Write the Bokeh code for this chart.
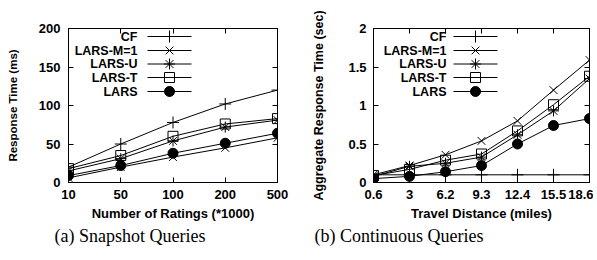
from bokeh.plotting import figure
from bokeh.layouts import row
from bokeh.models import Range1d, FixedTicker, LinearAxis, Title
from bokeh.core.properties import value
from bokeh.embed import file_html
from bokeh.resources import INLINE

# ---------------- data ----------------
series_names = ["CF", "LARS-M=1", "LARS-U", "LARS-T", "LARS"]

# (a) Snapshot queries: response time (ms) vs number of ratings (*1000)
snap_x_labels = ["10", "50", "100", "200", "500"]
snap_cf = [20, 50, 78, 102, 120]
snap_m1 = [6, 20, 33, 45, 58]
snap_u = [15, 31, 54, 72, 81]
snap_t = [18, 35, 60, 76, 83]
snap_lars = [9, 22, 38, 51, 64]
snap_y_ticks = [0, 50, 100, 150, 200]

# (b) Continuous queries: aggregate response time (sec) vs travel distance (miles)
cont_x_labels = ["0.6", "3", "6.2", "9.3", "12.4", "15.5", "18.6"]
cont_cf = [0.1, 0.1, 0.1, 0.1, 0.1, 0.1, 0.1]
cont_m1 = [0.1, 0.22, 0.36, 0.54, 0.8, 1.2, 1.59]
cont_u = [0.08, 0.21, 0.25, 0.33, 0.62, 0.93, 1.35]
cont_t = [0.09, 0.17, 0.29, 0.37, 0.67, 1.01, 1.38]
cont_lars = [0.05, 0.08, 0.14, 0.22, 0.5, 0.74, 0.83]
cont_y_ticks = [0, 0.5, 1, 1.5, 2]
cont_y_tick_labels = ["0", "0.5", "1", "1.5", "2"]

SANS = "Liberation Sans"
SERIF = "Liberation Serif"

styles = {
    "CF": dict(marker="cross", size=12, fill=False),
    "LARS-M=1": dict(marker="x", size=11, fill=False),
    "LARS-U": dict(marker="asterisk", size=11, fill=False),
    "LARS-T": dict(marker="square", size=10, fill=False),
    "LARS": dict(marker="circle", size=10, fill=True),
}

TOP = 28       # frame top (px on page)
FRAME_H = 154  # frame height (px)


def draw_series(p, xs, ys, name):
    st = styles[name]
    p.line(xs, ys, line_color="black", line_width=1)
    p.scatter(xs, ys, marker=st["marker"], size=st["size"], line_color="black",
              line_width=1, fill_color="black" if st["fill"] else None)


def make_plot(x_labels, series, y_max, y_ticks, y_tick_labels, xlabel, ylabel,
              ylabel_size, frame_w, left_b, right_b, caption, cap_offset,
              leg_text_x, leg_line, leg_rows, frame_left, ylab_standoff, tick_standoff):
    n = len(x_labels)
    xs = list(range(n))
    p = figure(frame_width=frame_w, frame_height=FRAME_H, output_backend="svg",
               toolbar_location=None, x_range=Range1d(0, n - 1),
               y_range=Range1d(0, y_max), min_border_left=left_b,
               min_border_right=right_b, min_border_top=TOP, min_border_bottom=40)
    p.grid.visible = False
    p.outline_line_color = "black"
    p.outline_line_width = 1
    p.background_fill_color = "white"
    p.border_fill_color = "white"

    for ax in (p.xaxis[0], p.yaxis[0]):
        ax.major_tick_in = 5
        ax.major_tick_out = 0
        ax.minor_tick_in = 0
        ax.minor_tick_out = 0
        ax.axis_line_color = "black"
        ax.major_tick_line_color = "black"
        ax.major_label_text_font = SANS
        ax.major_label_text_font_style = "bold"
        ax.major_label_text_font_size = "13px"
        ax.major_label_text_color = "black"
        ax.axis_label_text_font = SANS
        ax.axis_label_text_font_style = "bold"
        ax.axis_label_text_color = "black"

    p.xaxis.ticker = FixedTicker(ticks=xs)
    p.xaxis.major_label_overrides = {i: lab for i, lab in enumerate(x_labels)}
    p.xaxis.axis_label = xlabel
    p.xaxis.axis_label_text_font_size = "13px"
    p.xaxis.major_label_standoff = 7
    p.xaxis.axis_label_standoff = 4

    p.yaxis.ticker = FixedTicker(ticks=y_ticks)
    p.yaxis.major_label_overrides = {t: l for t, l in zip(y_ticks, y_tick_labels)}
    p.yaxis.axis_label = ylabel
    p.yaxis.axis_label_text_font_size = ylabel_size
    p.yaxis.major_label_standoff = tick_standoff
    p.yaxis.axis_label_standoff = ylab_standoff

    # mirrored inward ticks on top and right
    top = LinearAxis(ticker=FixedTicker(ticks=xs), major_tick_in=5, major_tick_out=0,
                     minor_tick_in=0, minor_tick_out=0, major_label_text_font_size="0px",
                     major_label_standoff=0, axis_line_color="black")
    right = LinearAxis(ticker=FixedTicker(ticks=y_ticks), major_tick_in=5, major_tick_out=0,
                       minor_tick_in=0, minor_tick_out=0, major_label_text_font_size="0px",
                       major_label_standoff=0, axis_line_color="black")
    p.add_layout(top, "above")
    p.add_layout(right, "right")

    for name, ys in zip(series_names, series):
        draw_series(p, xs, ys, name)

    # gnuplot-style legend (label on the left, sample on the right), pixel -> data
    def dx(px):
        return (px - frame_left) / frame_w * (n - 1)

    def dy(py):
        return (TOP + FRAME_H - py) / FRAME_H * y_max

    for name, py in zip(series_names, leg_rows):
        st = styles[name]
        p.text([dx(leg_text_x)], [dy(py)], text=[name], text_align="right",
               text_baseline="middle", text_font=value(SANS), text_font_style="bold",
               text_font_size="12.5px", text_color="black")
        p.segment([dx(leg_line[0])], [dy(py)], [dx(leg_line[1])], [dy(py)],
                  line_color="black", line_width=1)
        p.scatter([dx((leg_line[0] + leg_line[1]) / 2)], [dy(py)], marker=st["marker"],
                  size=st["size"], line_color="black", line_width=1,
                  fill_color="black" if st["fill"] else None)

    p.add_layout(Title(text=caption, align="left", offset=cap_offset,
                       text_font=SERIF, text_font_size="18px", text_font_style="normal",
                       text_color="black", standoff=1), "below")
    return p


leg_rows = [36, 50, 63.5, 77, 91]

p1 = make_plot(snap_x_labels, [snap_cf, snap_m1, snap_u, snap_t, snap_lars], 200,
               snap_y_ticks, [str(t) for t in snap_y_ticks],
               "Number of Ratings (*1000)", "Response Time (ms)", "11.5px",
               209, 68, 21, "(a) Snapshot Queries", -14,
               137, (147, 191), leg_rows, 68, 17, 8)

p2 = make_plot(cont_x_labels, [cont_cf, cont_m1, cont_u, cont_t, cont_lars], 2,
               cont_y_ticks, cont_y_tick_labels,
               "Travel Distance (miles)", "Aggregate Response Time (sec)", "12.5px",
               216, 75, 4, "(b) Continuous Queries", -59,
               446, (453, 497), leg_rows, 373, 19, 7)

layout = row(p1, p2)
open("out.html", "w").write(file_html(layout, INLINE))
